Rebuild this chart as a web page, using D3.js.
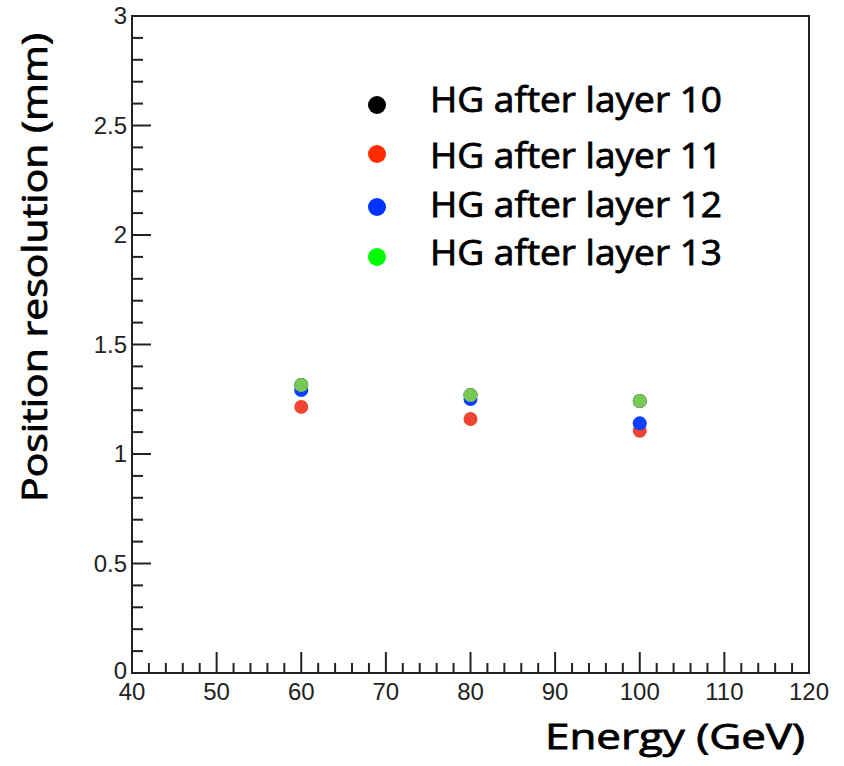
<!DOCTYPE html>
<html><head><meta charset="utf-8">
<script src="https://cdn.jsdelivr.net/npm/d3@7"></script>
<style>body{margin:0;background:#fff}</style>
</head><body>
<script>
const energies = [60, 80, 100];
const layer10 = [1.315, 1.269, 1.242];
const layer11 = [1.215, 1.160, 1.106];
const layer12 = [1.292, 1.251, 1.140];
const layer13 = [1.315, 1.269, 1.242];
const seriesNames = ["HG after layer 10", "HG after layer 11", "HG after layer 12", "HG after layer 13"];
const markerColors = ["#000000", "#ef4430", "#0a40ff", "#78c855"];
const legendColors = ["#000000", "#ff2a00", "#0033ff", "#00ff00"];
const xTicks = [40, 50, 60, 70, 80, 90, 100, 110, 120];
const yTicks = [0, 0.5, 1, 1.5, 2, 2.5, 3];

const W = 844, H = 766;
const L = 132, R = 809, T = 16, B = 673;
const svg = d3.select("body").append("svg").attr("width", W).attr("height", H);
const x = d3.scaleLinear().domain([40, 120]).range([L, R]);
const y = d3.scaleLinear().domain([0, 3]).range([B, T]);
const tickFont = "'Liberation Sans', Arial, sans-serif";
const labelFont = "'Open Sans', sans-serif";

// minor ticks
const xMinor = d3.range(40, 120.001, 2).filter(v => v % 10 !== 0);
const yMinor = d3.range(0, 30.001, 1).map(v => v / 10).filter(v => Math.round(v * 10) % 5 !== 0);

const g = svg.append("g");
g.selectAll(".xmin").data(xMinor).join("line")
  .attr("x1", d => x(d)).attr("x2", d => x(d)).attr("y1", B).attr("y2", B - 10)
  .attr("stroke", "#222").attr("stroke-width", 2);
g.selectAll(".xmaj").data(xTicks).join("line")
  .attr("x1", d => x(d)).attr("x2", d => x(d)).attr("y1", B).attr("y2", B - 21)
  .attr("stroke", "#222").attr("stroke-width", 2);
g.selectAll(".ymin").data(yMinor).join("line")
  .attr("x1", L).attr("x2", L + 11).attr("y1", d => y(d)).attr("y2", d => y(d))
  .attr("stroke", "#222").attr("stroke-width", 2);
g.selectAll(".ymaj").data(yTicks).join("line")
  .attr("x1", L).attr("x2", L + 19).attr("y1", d => y(d)).attr("y2", d => y(d))
  .attr("stroke", "#222").attr("stroke-width", 2);

// frame
svg.append("rect").attr("x", L).attr("y", T).attr("width", R - L).attr("height", B - T)
  .attr("fill", "none").attr("stroke", "#222").attr("stroke-width", 2);

// tick labels
svg.selectAll(".xl").data(xTicks).join("text")
  .attr("x", d => x(d)).attr("y", B + 27)
  .attr("text-anchor", "middle").attr("font-family", tickFont).attr("font-size", 24)
  .attr("fill", "#222").text(d => d);
svg.selectAll(".yl").data(yTicks).join("text")
  .attr("x", L - 5).attr("y", d => y(d) + (d === 0 ? 6 : 8))
  .attr("text-anchor", "end").attr("font-family", tickFont).attr("font-size", 24)
  .attr("fill", "#222").text(d => d);

// axis titles
function boldish(sel) {
  return sel.attr("font-family", labelFont).attr("font-size", 34).attr("fill", "#000")
    .attr("stroke", "#000").attr("stroke-width", 0.8).attr("lengthAdjust", "spacingAndGlyphs");
}
boldish(svg.append("text").attr("x", 545).attr("y", 749).attr("text-anchor", "start"))
  .attr("textLength", 260).text("Energy (GeV)");
boldish(svg.append("text").attr("transform", "translate(47,502) rotate(-90)").attr("text-anchor", "start"))
  .attr("textLength", 469).text("Position resolution (mm)");

// data
const allSeries = [layer10, layer11, layer12, layer13];
allSeries.forEach((vals, i) => {
  svg.append("g").selectAll("circle").data(energies.map((e, j) => [e, vals[j]])).join("circle")
    .attr("cx", d => x(d[0])).attr("cy", d => y(d[1])).attr("r", 7)
    .attr("fill", markerColors[i]);
});

// legend
const legDotY = [105, 154, 207, 257];
const legTextY = [112, 168, 217, 265];
seriesNames.forEach((name, i) => {
  svg.append("circle").attr("cx", 377).attr("cy", legDotY[i]).attr("r", 9).attr("fill", legendColors[i]);
  boldish(svg.append("text").attr("x", 430).attr("y", legTextY[i]))
    .attr("textLength", 292).text(name);
});
</script>
</body></html>
